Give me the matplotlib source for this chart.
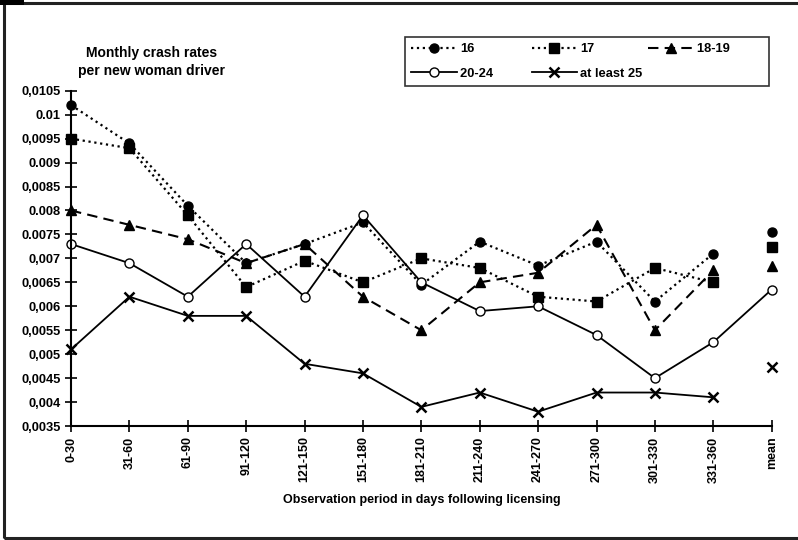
import matplotlib
matplotlib.use('Agg')
import matplotlib.pyplot as plt
import matplotlib.lines as mlines
import matplotlib.patches as patches

plt.rcParams['font.family'] = ['Liberation Sans', 'DejaVu Sans']
plt.rcParams['font.weight'] = 'bold'

# periods (last one is the mean)
periods = ['0-30', '31-60', '61-90', '91-120', '121-150', '151-180', '181-210',
           '211-240', '241-270', '271-300', '301-330', '331-360', 'mean']

age16 = [0.0102, 0.0094, 0.0081, 0.0069, 0.0073, 0.00775, 0.00645, 0.00735,
         0.00685, 0.00735, 0.0061, 0.0071]
age17 = [0.0095, 0.0093, 0.0079, 0.0064, 0.00695, 0.0065, 0.0070, 0.0068,
         0.0062, 0.0061, 0.0068, 0.0065]
age18_19 = [0.0080, 0.0077, 0.0074, 0.0069, 0.0073, 0.0062, 0.0055, 0.0065,
            0.0067, 0.0077, 0.0055, 0.00675]
age20_24 = [0.0073, 0.0069, 0.0062, 0.0073, 0.0062, 0.0079, 0.0065, 0.0059,
            0.0060, 0.0054, 0.0045, 0.00525, 0.00635]
age25 = [0.0051, 0.0062, 0.0058, 0.0058, 0.0048, 0.0046, 0.0039, 0.0042,
         0.0038, 0.0042, 0.0042, 0.0041]

mean16 = 0.00755
mean17 = 0.00723
mean18_19 = 0.00685
mean25 = 0.00474

ytick_vals = [0.0035, 0.004, 0.0045, 0.005, 0.0055, 0.006, 0.0065, 0.007,
              0.0075, 0.008, 0.0085, 0.009, 0.0095, 0.01, 0.0105]
ytick_labels = ['0,0035', '0,004', '0,0045', '0,005', '0,0055', '0,006', '0,0065', '0,007',
                '0.0075', '0.008', '0,0085', '0.009', '0,0095', '0.01', '0,0105']

fig = plt.figure(figsize=(7.98, 5.4), dpi=100)
ax = fig.add_axes([0.089, 0.211, 0.878, 0.621])

x12 = list(range(12))
x13 = list(range(13))
ms = 6.5
lw = 1.3

ax.plot(x12, age16, color='black', linestyle=':', linewidth=lw + 0.3,
        marker='o', markersize=ms, clip_on=False)
ax.plot(x12, age17, color='black', linestyle=':', linewidth=lw + 0.3,
        marker='s', markersize=ms, clip_on=False)
ax.plot(x12, age18_19, color='black', linestyle=(0, (5, 3)), linewidth=lw + 0.2,
        marker='^', markersize=ms, clip_on=False)
ax.plot(x13, age20_24, color='black', linestyle='-', linewidth=lw,
        marker='o', markersize=ms, markerfacecolor='white', clip_on=False)
ax.plot(x12, age25, color='black', linestyle='-', linewidth=lw,
        marker='x', markersize=ms, markeredgewidth=1.8, clip_on=False)

# mean points (not connected)
ax.plot([12], [mean16], color='black', marker='o', markersize=ms, linestyle='none', clip_on=False)
ax.plot([12], [mean17], color='black', marker='s', markersize=ms, linestyle='none', clip_on=False)
ax.plot([12], [mean18_19], color='black', marker='^', markersize=ms, linestyle='none', clip_on=False)
ax.plot([12], [mean25], color='black', marker='x', markersize=ms, markeredgewidth=1.8,
        linestyle='none', clip_on=False)

ax.set_xlim(0, 12)
ax.set_ylim(0.0035, 0.0105)
ax.set_xticks(x13)
ax.set_xticklabels(periods, rotation=90, fontsize=9)
ax.set_yticks(ytick_vals)
ax.set_yticklabels(ytick_labels, fontsize=9.3)
ax.tick_params(direction='inout', length=8, width=1.2, color='black')
ax.spines['top'].set_visible(False)
ax.spines['right'].set_visible(False)
ax.spines['left'].set_linewidth(1.5)
ax.spines['bottom'].set_linewidth(1.5)

ax.set_xlabel('Observation period in days following licensing', fontsize=9,
              fontweight='bold', labelpad=8)

fig.text(0.19, 0.855, 'Monthly crash rates\nper new woman driver', ha='center',
         va='bottom', fontsize=10, linespacing=1.4)

# legend (labels padded so the three columns get equal widths, as in Excel)
h16 = mlines.Line2D([], [], color='black', linestyle=':', linewidth=lw + 0.3, marker='o', markersize=ms)
h17 = mlines.Line2D([], [], color='black', linestyle=':', linewidth=lw + 0.3, marker='s', markersize=ms)
h18 = mlines.Line2D([], [], color='black', linestyle=(0, (5, 3)), linewidth=lw + 0.2, marker='^', markersize=ms)
h20 = mlines.Line2D([], [], color='black', linestyle='-', linewidth=lw, marker='o', markersize=ms,
                    markerfacecolor='white')
h25 = mlines.Line2D([], [], color='black', linestyle='-', linewidth=lw, marker='x', markersize=ms,
                    markeredgewidth=1.8)
pad = ' ' * 9
leg = fig.legend([h16, h20, h17, h25, h18], ['16', '20-24' + pad, '17', 'at least 25', '18-19' + pad],
                 ncol=3, loc='upper left', bbox_to_anchor=(0.5075, 0.8407, 0.456, 0.0908),
                 mode='expand', fontsize=9.3, frameon=True, fancybox=False, handlelength=3.5,
                 borderpad=0.5, labelspacing=0.95, handletextpad=0.25, borderaxespad=0)
leg.get_frame().set_edgecolor('black')
leg.get_frame().set_linewidth(1.2)

# page frame
fig.add_artist(patches.Rectangle((0.005, 0.004), 1.2, 0.99, transform=fig.transFigure,
                                 fill=False, edgecolor='#222222', linewidth=2.2))
fig.add_artist(patches.Rectangle((0, 0.99), 0.03, 0.01, transform=fig.transFigure,
                                 facecolor='black', edgecolor='none'))

fig.savefig('out.png', dpi=100, facecolor='white')
